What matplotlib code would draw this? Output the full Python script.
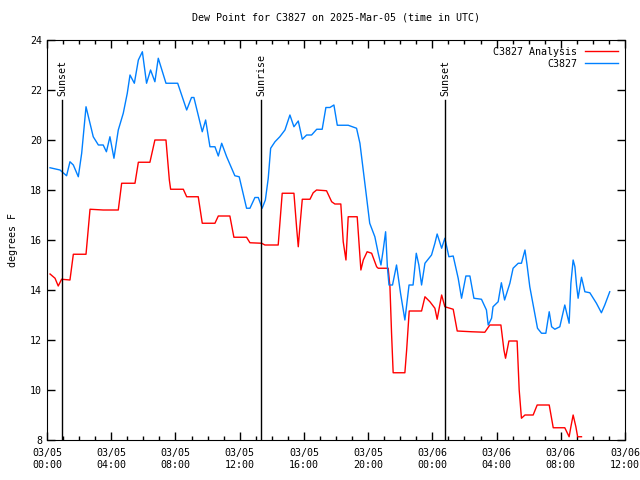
import matplotlib
matplotlib.use("Agg")
import matplotlib.pyplot as plt
import matplotlib.dates as mdates
import numpy as np
import pandas as pd

# Data (hours after 2025-03-05 00:00 UTC, degrees F)
start = pd.Timestamp("2025-03-05 00:00")

obs_hours = [0.19, 0.81, 1.22, 1.43, 1.64, 1.95, 2.16, 2.43, 2.88, 3.2, 3.5, 3.7, 3.92, 4.17,
             4.44, 4.75, 5.0, 5.17, 5.44, 5.69, 5.94, 6.2, 6.45, 6.72, 6.93, 7.41, 8.14, 8.7,
             9.0, 9.15, 9.67, 9.88, 10.15, 10.46, 10.67, 10.88, 11.19, 11.7, 11.97, 12.43,
             12.64, 12.95, 13.16, 13.4, 13.6, 13.78, 13.93, 14.2, 14.5, 14.82, 15.13, 15.38,
             15.65, 15.9, 16.17, 16.48, 16.8, 17.14, 17.37, 17.62, 17.87, 18.08, 18.76, 19.28,
             19.49, 19.76, 19.9, 20.1, 20.42, 20.63, 20.8, 20.94, 21.09, 21.2, 21.3, 21.52,
             21.77, 22.02, 22.29, 22.55, 22.8, 23.0, 23.16, 23.33, 23.54, 23.95, 24.16, 24.3,
             24.58, 24.78, 25.03, 25.3, 25.61, 25.82, 26.09, 26.34, 26.59, 27.06, 27.37,
             27.48, 27.69, 27.78, 28.1, 28.3, 28.5, 28.83, 29.03, 29.35, 29.55, 29.77, 29.9,
             30.07, 30.3, 30.55, 30.8, 31.07, 31.28, 31.43, 31.63, 31.94, 32.25, 32.52,
             32.63, 32.77, 32.88, 32.98, 33.08, 33.29, 33.5, 33.81, 34.22, 34.53, 34.74, 35.05]
obs_vals = [18.89, 18.8, 18.57, 19.13, 19.0, 18.53, 19.47, 21.33, 20.13, 19.8, 19.8, 19.53,
            20.13, 19.27, 20.4, 21.07, 21.87, 22.6, 22.27, 23.2, 23.53, 22.27, 22.8, 22.33,
            23.27, 22.27, 22.27, 21.2, 21.7, 21.7, 20.33, 20.8, 19.73, 19.73, 19.36, 19.87,
            19.33, 18.57, 18.53, 17.27, 17.27, 17.7, 17.7, 17.27, 17.6, 18.47, 19.67, 19.93,
            20.13, 20.4, 21.0, 20.53, 20.76, 20.03, 20.2, 20.2, 20.43, 20.43, 21.3, 21.3,
            21.4, 20.59, 20.59, 20.47, 19.87, 18.47, 17.73, 16.67, 16.13, 15.47, 15.0, 15.6,
            16.33, 14.93, 14.2, 14.2, 15.0, 13.87, 12.8, 14.2, 14.2, 15.47, 15.0, 14.2,
            15.07, 15.4, 15.87, 16.24, 15.67, 16.07, 15.33, 15.36, 14.47, 13.67, 14.56,
            14.56, 13.67, 13.63, 13.2, 12.6, 12.87, 13.33, 13.53, 14.29, 13.6, 14.27, 14.87,
            15.07, 15.07, 15.6, 15.0, 14.13, 13.33, 12.47, 12.27, 12.27, 13.13, 12.53, 12.43,
            12.53, 13.4, 12.67, 14.27, 15.2, 14.93, 14.2, 13.67, 14.51, 13.93, 13.89, 13.47,
            13.09, 13.4, 13.93]

ana_hours = [0.19, 0.5, 0.7, 0.91, 1.43, 1.64, 2.43, 2.68, 3.5, 4.44, 4.65, 5.48, 5.69, 6.41,
             6.72, 7.41, 7.62, 7.7, 8.49, 8.7, 9.42, 9.67, 10.46, 10.67, 11.39, 11.64, 12.43,
             12.64, 13.37, 13.57, 14.4, 14.65, 15.38, 15.55, 15.65, 15.75, 15.9, 16.38, 16.58,
             16.79, 17.41, 17.73, 17.93, 18.3, 18.45, 18.62, 18.76, 19.32, 19.55, 19.7, 19.94,
             20.22, 20.53, 20.63, 21.25, 21.36, 21.46, 21.56, 22.29, 22.4, 22.56, 23.33, 23.54,
             23.85, 24.16, 24.3, 24.58, 24.78, 25.3, 25.55, 26.44, 27.27, 27.58, 28.27, 28.46,
             28.56, 28.77, 29.28, 29.41, 29.55, 29.77, 30.28, 30.53, 31.28, 31.53, 32.25,
             32.52, 32.63, 32.77, 32.94, 33.05, 33.29]
ana_vals = [14.64, 14.47, 14.16, 14.43, 14.4, 15.43, 15.43, 17.23, 17.2, 17.2, 18.27, 18.27,
            19.11, 19.11, 20.0, 20.0, 18.4, 18.03, 18.03, 17.73, 17.73, 16.67, 16.67, 16.96,
            16.96, 16.11, 16.11, 15.89, 15.87, 15.8, 15.8, 17.87, 17.87, 16.47, 15.73, 16.53,
            17.63, 17.63, 17.89, 18.0, 17.97, 17.53, 17.44, 17.44, 15.93, 15.2, 16.93, 16.93,
            14.8, 15.2, 15.53, 15.47, 14.93, 14.87, 14.87, 14.13, 12.27, 10.69, 10.69, 11.6,
            13.16, 13.16, 13.73, 13.53, 13.27, 12.83, 13.8, 13.33, 13.23, 12.36, 12.33, 12.31,
            12.6, 12.6, 11.6, 11.27, 11.96, 11.96, 10.0, 8.87, 9.0, 9.0, 9.4, 9.4, 8.49, 8.49,
            8.13, 8.53, 9.0, 8.53, 8.13, 8.13]

sun_hours = [0.93, 13.33, 24.8]
sun_labels = ["Sunset", "Sunrise", "Sunset"]

obs_t = start + pd.to_timedelta(obs_hours, unit="h")
ana_t = start + pd.to_timedelta(ana_hours, unit="h")
sun_t = start + pd.to_timedelta(sun_hours, unit="h")

plt.rcParams["font.family"] = "DejaVu Sans Mono"
plt.rcParams["font.size"] = 7.2

fig = plt.figure(figsize=(6.4, 4.8), dpi=100)
ax = fig.add_axes([47 / 640, 40 / 480, 578 / 640, 400 / 480])

ax.plot(ana_t, ana_vals, color="#ff0000", lw=1.0, label="C3827 Analysis")
ax.plot(obs_t, obs_vals, color="#0080ff", lw=1.0, label="C3827")

for t, lab in zip(sun_t, sun_labels):
    ax.plot([t, t], [8, 21.6], color="black", lw=1.0)
    ax.text(t, 21.75, lab, rotation=90, ha="center", va="bottom")

ax.set_xlim(start, start + pd.Timedelta(hours=36))
ax.set_ylim(8, 24)
ax.set_yticks(np.arange(8, 25, 2))
ax.xaxis.set_major_locator(mdates.HourLocator(byhour=[0, 4, 8, 12, 16, 20]))
ax.xaxis.set_minor_locator(mdates.HourLocator())
ax.xaxis.set_major_formatter(mdates.DateFormatter("%m/%d\n%H:%M"))
ax.tick_params(which="both", direction="in", top=True, right=True, width=1.0)
ax.tick_params(which="major", length=6)
ax.tick_params(which="minor", length=3)
ax.tick_params(axis="x", pad=6)

ax.set_ylabel("degrees F", labelpad=9)
ax.set_title("Dew Point for C3827 on 2025-Mar-05 (time in UTC)", fontsize=7.2, pad=14)
ax.legend(loc="upper right", frameon=False, markerfirst=False, handlelength=3.3,
          borderaxespad=0.3, labelspacing=0.2)

fig.savefig("out.png", dpi=100)
